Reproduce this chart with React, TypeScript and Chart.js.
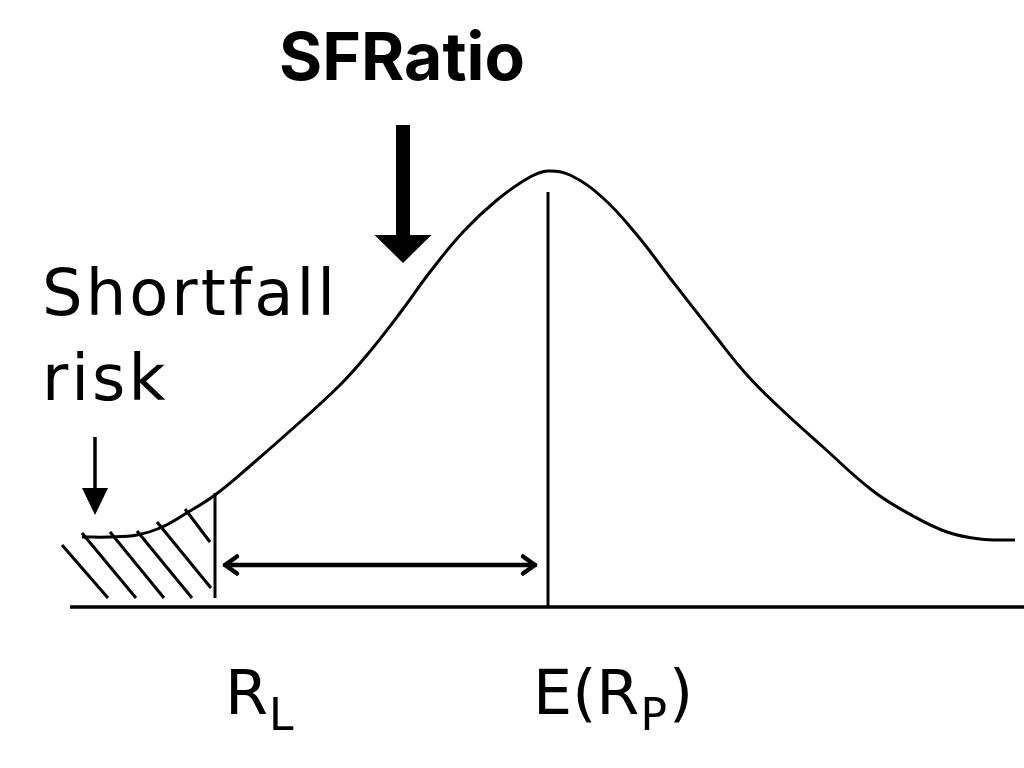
import React, { useEffect, useRef } from "react";
import { Chart, registerables } from "chart.js";

Chart.register(...registerables);

// Return axis (x): expected portfolio return E(Rp) at 0; density on y.
const curveX = [-4.66, -4.38, -4.11, -3.88, -3.63, -3.33, -2.98, -2.48, -2.08, -1.81, -1.48, -1.18, -0.85, -0.51, -0.18, 0, 0.22, 0.55, 0.89, 1.22, 1.65, 1.99, 2.32, 2.75, 3.25, 3.65, 3.99, 4.32, 4.67];
const curveY = [0.70, 0.70, 0.72, 0.79, 0.93, 1.12, 1.41, 1.85, 2.22, 2.52, 2.94, 3.35, 3.75, 4.07, 4.30, 4.36, 4.32, 4.09, 3.72, 3.29, 2.74, 2.32, 1.99, 1.60, 1.16, 0.91, 0.75, 0.68, 0.67];

const expectedReturn = 0; // E(Rp)
const thresholdReturn = -3.33; // R_L
const meanLineTop = 4.15;
const thresholdLineBottom = 0.09;
const thresholdLineTop = 1.14;
const axisStart = -4.78;
const axisEnd = 4.76;

// Hatch strokes of the shortfall-risk area
const hatchStartX = [-4.86, -4.66, -4.38, -4.11, -3.91, -3.63];
const hatchStartY = [0.62, 0.74, 0.75, 0.76, 0.85, 0.98];
const hatchEndX = [-4.40, -4.12, -3.84, -3.56, -3.37, -3.38];
const hatchEndY = [0.09, 0.09, 0.09, 0.09, 0.19, 0.65];

const titleText = "SFRatio";
const shortfallLines = ["Shortfall", "risk"];

const X_MIN = -5.48, X_MAX = 4.76, Y_MIN = -1.61, Y_MAX = 6.07;

const handFont = '"DejaVu Sans", sans-serif';

const annotationPlugin = {
  id: "diagramAnnotations",
  afterDatasetsDraw(chart: any) {
    const { ctx } = chart;
    const xs = chart.scales.x;
    const ys = chart.scales.y;
    const px = (v: number) => xs.getPixelForValue(v);
    const py = (v: number) => ys.getPixelForValue(v);
    const ux = (v: number) => px(v) - px(0);
    const uy = (v: number) => py(0) - py(v);
    ctx.save();
    ctx.fillStyle = "#000";
    ctx.strokeStyle = "#000";

    // Big SFRatio arrow
    const bx = px(-1.45);
    ctx.fillRect(bx - 7, py(4.82), 14, py(3.70) - py(4.82));
    ctx.beginPath();
    ctx.moveTo(bx - ux(0.285), py(3.72));
    ctx.lineTo(bx + ux(0.285), py(3.72));
    ctx.lineTo(bx, py(3.44));
    ctx.closePath();
    ctx.fill();

    // Small shortfall arrow
    const sx = px(-4.53);
    ctx.lineWidth = 3.5;
    ctx.beginPath();
    ctx.moveTo(sx, py(1.70));
    ctx.lineTo(sx, py(1.15));
    ctx.stroke();
    ctx.beginPath();
    ctx.moveTo(sx - ux(0.13), py(1.19));
    ctx.lineTo(sx + ux(0.13), py(1.19));
    ctx.lineTo(sx, py(0.92));
    ctx.closePath();
    ctx.fill();

    // Double arrow between R_L and E(Rp)
    const ay = py(0.42);
    const ax0 = px(-3.23), ax1 = px(-0.13);
    ctx.lineWidth = 4.5;
    ctx.lineCap = "round";
    ctx.lineJoin = "round";
    ctx.beginPath();
    ctx.moveTo(ax0, ay);
    ctx.lineTo(ax1, ay);
    ctx.stroke();
    const aw = ux(0.12), ah = uy(0.085);
    ctx.beginPath();
    ctx.moveTo(ax0 + aw, ay - ah);
    ctx.lineTo(ax0, ay);
    ctx.lineTo(ax0 + aw, ay + ah);
    ctx.moveTo(ax1 - aw, ay - ah);
    ctx.lineTo(ax1, ay);
    ctx.lineTo(ax1 - aw, ay + ah);
    ctx.stroke();

    // Title
    ctx.textBaseline = "alphabetic";
    ctx.textAlign = "center";
    ctx.font = 'bold 66px Inter, "Noto Sans", sans-serif';
    ctx.fillText(titleText, px(-1.46), py(5.27));

    // Shortfall risk label
    ctx.textAlign = "left";
    ctx.font = `64px ${handFont}`;
    try { (ctx as any).letterSpacing = "3px"; } catch (e) {}
    ctx.fillText(shortfallLines[0], px(-5.06), py(2.92));
    ctx.fillText(shortfallLines[1], px(-5.06), py(2.07));
    try { (ctx as any).letterSpacing = "0px"; } catch (e) {}

    // Axis labels with subscripts
    const drawSub = (x0: number, main: string, sub: string, tail: string) => {
      let cx = x0;
      const base = py(-1.07);
      const subBase = py(-1.23);
      ctx.font = `62px ${handFont}`;
      ctx.fillText(main, cx, base);
      cx += ctx.measureText(main).width + 1;
      ctx.font = `44px ${handFont}`;
      ctx.fillText(sub, cx, subBase);
      cx += ctx.measureText(sub).width + 2;
      if (tail) {
        ctx.font = `62px ${handFont}`;
        ctx.fillText(tail, cx, base);
      }
    };
    drawSub(px(-3.23), "R", "L", "");
    drawSub(px(-0.15), "E(R", "P", ")");

    ctx.restore();
  },
};

export default function App() {
  const canvasRef = useRef<HTMLCanvasElement | null>(null);

  useEffect(() => {
    document.body.style.margin = "0";
    document.body.style.background = "#ffffff";
    const canvas = canvasRef.current;
    if (!canvas) return;

    const lineStyle = {
      showLine: true,
      borderColor: "#000",
      pointRadius: 0,
      pointHoverRadius: 0,
      fill: false,
    };

    const hatchSets = hatchStartX.map((x0, i) => ({
      ...lineStyle,
      label: `hatch${i}`,
      borderWidth: 3,
      data: [
        { x: x0, y: hatchStartY[i] },
        { x: hatchEndX[i], y: hatchEndY[i] },
      ],
    }));

    const chart = new Chart(canvas, {
      type: "scatter",
      data: {
        datasets: [
          {
            ...lineStyle,
            label: "distribution",
            borderWidth: 3,
            tension: 0.4,
            data: curveX.map((x, i) => ({ x, y: curveY[i] })),
          },
          {
            ...lineStyle,
            label: "axis",
            borderWidth: 3.5,
            data: [
              { x: axisStart, y: 0 },
              { x: axisEnd, y: 0 },
            ],
          },
          {
            ...lineStyle,
            label: "mean",
            borderWidth: 3,
            data: [
              { x: expectedReturn, y: 0 },
              { x: expectedReturn, y: meanLineTop },
            ],
          },
          {
            ...lineStyle,
            label: "threshold",
            borderWidth: 3,
            data: [
              { x: thresholdReturn, y: thresholdLineBottom },
              { x: thresholdReturn, y: thresholdLineTop },
            ],
          },
          ...hatchSets,
        ] as any,
      },
      options: {
        responsive: false,
        animation: false,
        layout: { padding: 0 },
        plugins: { legend: { display: false }, tooltip: { enabled: false }, title: { display: false } },
        scales: {
          x: { type: "linear", min: X_MIN, max: X_MAX, display: false },
          y: { type: "linear", min: Y_MIN, max: Y_MAX, display: false },
        },
        events: [],
      } as any,
      plugins: [annotationPlugin],
    });

    return () => chart.destroy();
  }, []);

  return (
    <div style={{ width: 1024, height: 768, background: "#fff" }}>
      <canvas ref={canvasRef} width={1024} height={768} style={{ display: "block" }} />
    </div>
  );
}
